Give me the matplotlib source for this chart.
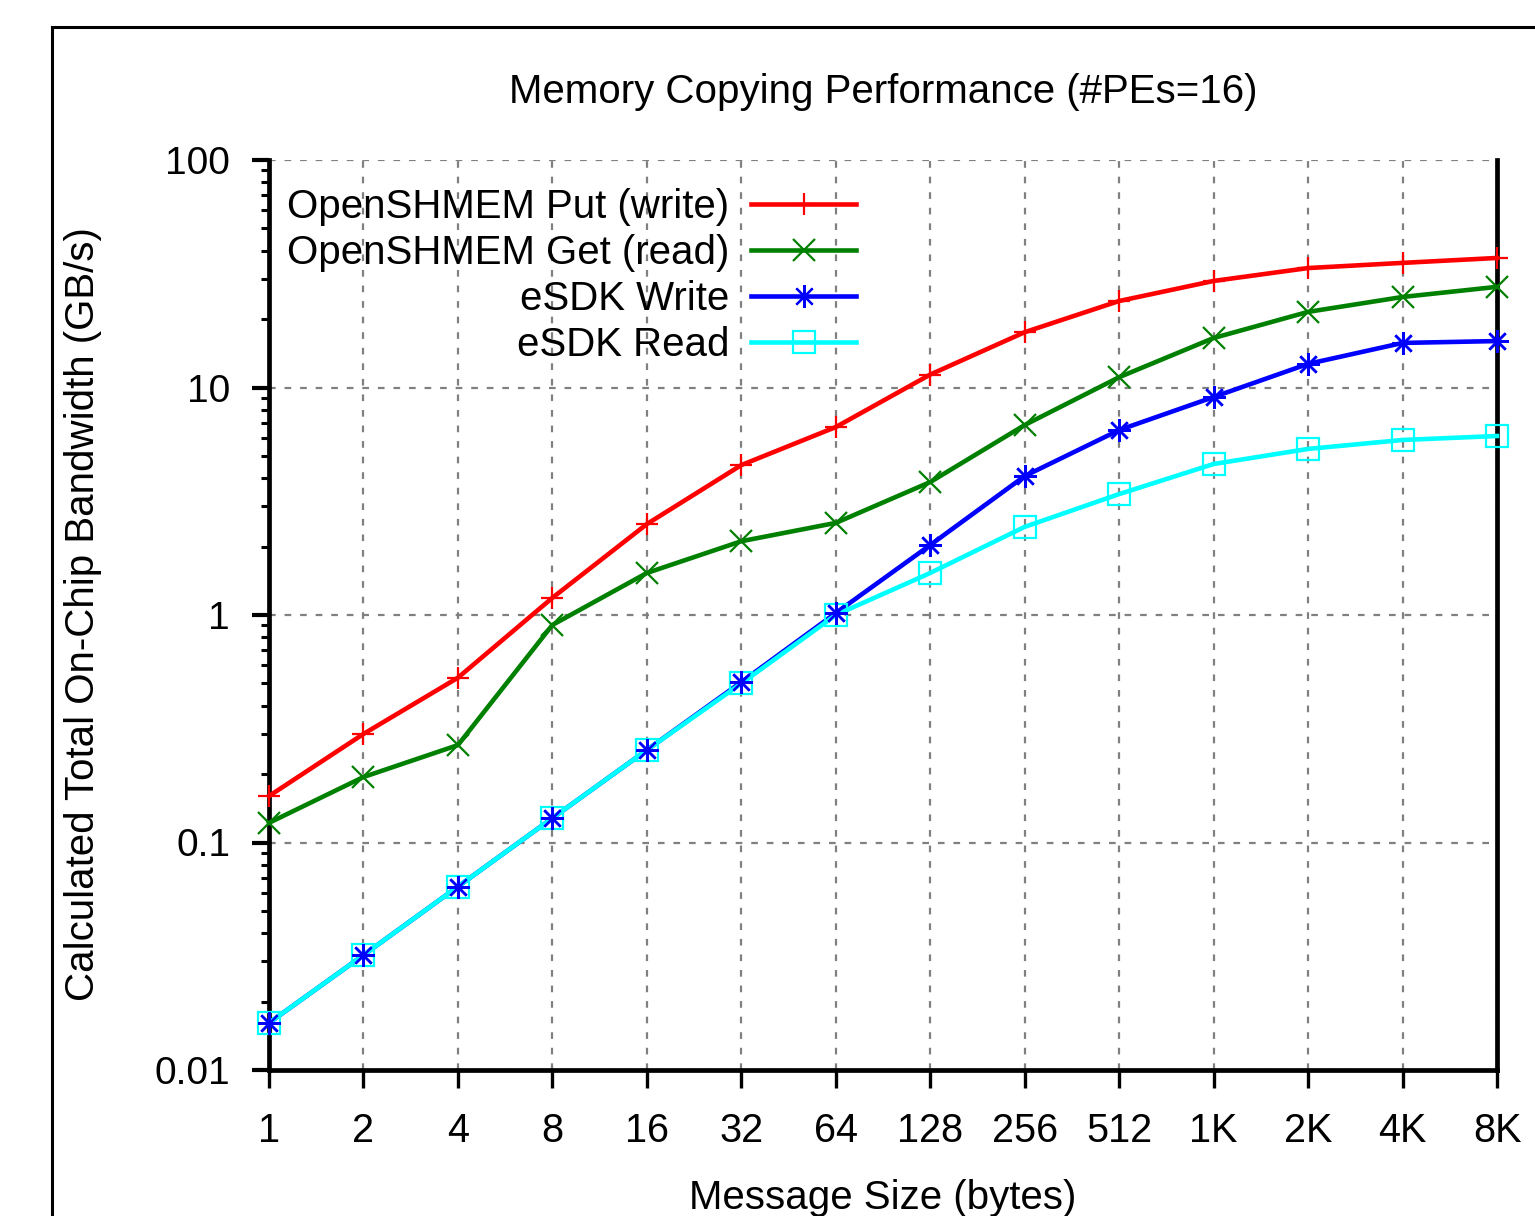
import matplotlib
matplotlib.use("Agg")
import matplotlib.pyplot as plt
from matplotlib.lines import Line2D
from matplotlib.ticker import LogLocator, NullFormatter

# Message sizes (bytes) and bandwidths (GB/s)
sizes = [1, 2, 4, 8, 16, 32, 64, 128, 256, 512, 1024, 2048, 4096, 8192]
size_labels = ["1", "2", "4", "8", "16", "32", "64", "128", "256", "512",
               "1K", "2K", "4K", "8K"]

put_write = [0.16, 0.30, 0.53, 1.19, 2.51, 4.56, 6.7, 11.4, 17.5, 24.0,
             29.4, 33.5, 35.3, 37.1]
get_read = [0.122, 0.194, 0.268, 0.904, 1.53, 2.11, 2.54, 3.84, 6.84, 11.1,
            16.5, 21.5, 25.0, 27.7]
esdk_write = [0.0161, 0.032, 0.064, 0.128, 0.255, 0.507, 1.02, 2.03, 4.08,
              6.5, 9.08, 12.7, 15.7, 16.0]
esdk_read = [0.0161, 0.032, 0.064, 0.128, 0.255, 0.50, 1.0, 1.53, 2.44,
             3.40, 4.61, 5.37, 5.88, 6.12]

yticks = [0.01, 0.1, 1, 10, 100]
ytick_labels = ["0.01", "0.1", "1", "10", "100"]

series = [
    ("OpenSHMEM Put (write)", put_write, "#ff0000", "+"),
    ("OpenSHMEM Get (read)", get_read, "#008000", "x"),
    ("eSDK Write", esdk_write, "#0000ff", (8, 2, 0)),
    ("eSDK Read", esdk_read, "#00ffff", "s"),
]

plt.rcParams['font.family'] = ['Liberation Sans', 'DejaVu Sans']

W, H = 1535, 1216
fig = plt.figure(figsize=(W / 100, H / 100), dpi=100)
ax = fig.add_axes([269 / W, 1 - 1070 / H, (1497 - 269) / W, (1070 - 160) / H])

# outer frame (only top and left edges are inside the picture)
fig.add_artist(Line2D([52 / W, 1.0], [1 - 27 / H, 1 - 27 / H], color="black", lw=2.2))
fig.add_artist(Line2D([52 / W, 52 / W], [0.0, 1 - 27 / H], color="black", lw=2.2))

handles = []
for name, vals, col, mk in series:
    ln, = ax.plot(sizes, vals, color=col, lw=3.3, marker=mk, markersize=16.5,
                  markeredgewidth=1.6, markerfacecolor="none", markeredgecolor=col,
                  clip_on=False, zorder=3, label=name)
    handles.append(ln)
# eSDK Write symbols sit on top of the eSDK Read line
ax.plot(sizes, esdk_write, ls="none", marker=(8, 2, 0), markersize=16.5,
        markeredgewidth=1.6, color="#0000ff", clip_on=False, zorder=4)

ax.set_xscale("log", base=2)
ax.set_yscale("log")
ax.set_xlim(1, 8192)
ax.set_ylim(0.01, 100)
ax.set_xticks(sizes, size_labels)
ax.set_yticks(yticks, ytick_labels)
ax.xaxis.set_minor_locator(plt.NullLocator())
ax.yaxis.set_minor_locator(LogLocator(base=10, subs=range(2, 10)))
ax.yaxis.set_minor_formatter(NullFormatter())

ax.tick_params(axis="x", which="major", direction="out", length=13, width=2.4,
               labelsize=28.5, pad=17)
ax.tick_params(axis="y", which="major", direction="out", length=12, width=3,
               labelsize=28, pad=16)
ax.tick_params(axis="y", which="minor", direction="out", length=6, width=2.2)

ax.grid(True, which="major", color="#808080", lw=1.6, ls=(0, (3, 4)))
ax.set_axisbelow(True)

ax.spines["top"].set_visible(False)
for s in ("left", "bottom", "right"):
    ax.spines[s].set_linewidth(3.4)

fig.text(883 / W, 1 - 92 / H, "Memory Copying Performance (#PEs=16)",
         ha="center", va="center", fontsize=29)
fig.text(883 / W, 1 - 1198 / H, "Message Size (bytes)",
         ha="center", va="center", fontsize=29)
fig.text(83 / W, 1 - 614 / H, "Calculated Total On-Chip Bandwidth (GB/s)",
         ha="center", va="center", rotation=90, fontsize=29)

ax.legend(handles=handles, loc="upper right", bbox_to_anchor=(856 / W, 1 - 188 / H),
          bbox_transform=fig.transFigure, markerfirst=False, frameon=False,
          fontsize=29, handlelength=2.6, handletextpad=0.55, labelspacing=0.2,
          borderpad=0, borderaxespad=0, numpoints=1)

fig.savefig("out.png", dpi=100)
